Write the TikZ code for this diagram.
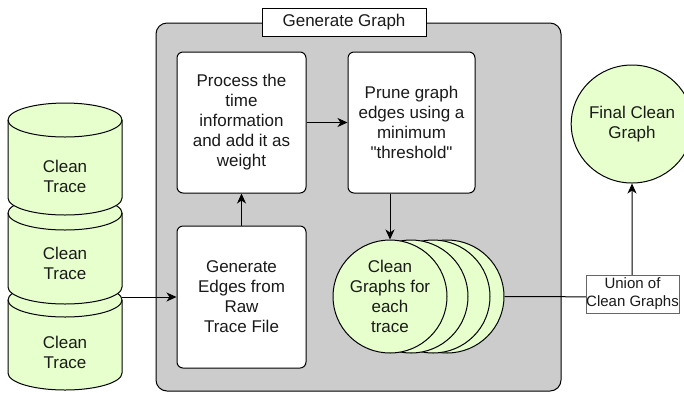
\documentclass[tikz,border=0pt]{standalone}
\usepackage{fontspec}
\setmainfont{Liberation Sans}[Ligatures=TeXOff]
\usetikzlibrary{arrows.meta,shapes.geometric}
\definecolor{gfill}{HTML}{E6FFCC}
\definecolor{cfill}{HTML}{CCCCCC}
\definecolor{txt}{HTML}{1A1A1A}
\tikzset{
  base/.style={line width=1pt, draw=black, text=txt, font=\fontsize{17}{20}\selectfont, align=center, inner sep=0pt},
  procbox/.style={base, fill=white, rounded corners=6pt, minimum width=129pt},
  ell/.style={base, ellipse, fill=gfill, minimum width=114pt, minimum height=113pt},
  conn/.style={line width=1pt, draw=black, -{Stealth[length=10pt,width=9pt,inset=3pt]}},
  plain/.style={line width=1pt, draw=black},
  cylstyle/.style={line width=1pt, draw=black, fill=gfill}
}
\newcommand{\mycyl}[4]{% x0, y0, w, h  (s=17)
  \path[cylstyle] (#1,#2+17) -- (#1,#2+#4-17)
     arc[start angle=180,end angle=360,x radius=#3/2*1pt,y radius=17pt]
     -- (#1+#3,#2+17)
     arc[start angle=0,end angle=180,x radius=#3/2*1pt,y radius=17pt] -- cycle;
  \draw[line width=1pt] (#1,#2+17) arc[start angle=180,end angle=360,x radius=#3/2*1pt,y radius=17pt];
}
\begin{document}
\begin{tikzpicture}[x=1pt,y=-1pt]
\useasboundingbox (0,0) rectangle (684,392);
% container
\draw[line width=1pt, fill=cfill, rounded corners=11pt] (156,23) rectangle (561,391);
\node[base, fill=white, draw, minimum width=164pt, minimum height=28pt] (title) at (344,22) {Generate Graph};
% cylinders
\mycyl{8}{283}{114}{107}
\mycyl{8}{196}{114}{108}
\mycyl{8}{103}{114}{112}
\node[base, draw=none] (t1) at (65,176) {Clean\\Trace};
\node[base, draw=none] (t2) at (65,263) {Clean\\Trace};
\node[base, draw=none] (t3) at (65,352) {Clean\\Trace};
\coordinate (cylout) at (122,297);
% boxes
\node[procbox, minimum height=141pt] (proc) at (241.5,122.5) {Process the\\time\\information\\and add it as\\weight};
\node[procbox, minimum width=127pt, minimum height=141pt] (prune) at (411.5,122.5) {Prune graph\\edges using a\\minimum\\"threshold"};
\node[procbox, minimum height=142pt] (gen) at (241.5,297) {Generate\\Edges from\\Raw\\Trace File};
% ellipse stack
\node[ell] (e4) at (447,296.5) {};
\node[ell] (e3) at (433,296.5) {};
\node[ell] (e2) at (411,296.5) {};
\node[ell] (e1) at (390,296.5) {Clean\\Graphs for\\each\\trace};
% final
\node[base, ellipse, fill=gfill, minimum width=112pt, minimum height=118pt] (final) at (632,124) {Final Clean\\Graph};
% connectors
\draw[conn] (cylout) -- (gen.west);
\draw[conn] (gen.north) -- (proc.south);
\draw[conn] (proc.east) -- (prune.west);
\draw[conn] (prune.south -| e1.north) -- (e1.north);
\coordinate (corner) at (632,297);
\draw[conn] (e4.east) -- (corner) -- (final.south);
\node[base, fill=white, draw=black!60, line width=0.6pt, font=\fontsize{15}{18}\selectfont, minimum width=93pt, minimum height=38pt] (union) at (632.5,294) {Union of\\Clean Graphs};
\end{tikzpicture}
\end{document}
